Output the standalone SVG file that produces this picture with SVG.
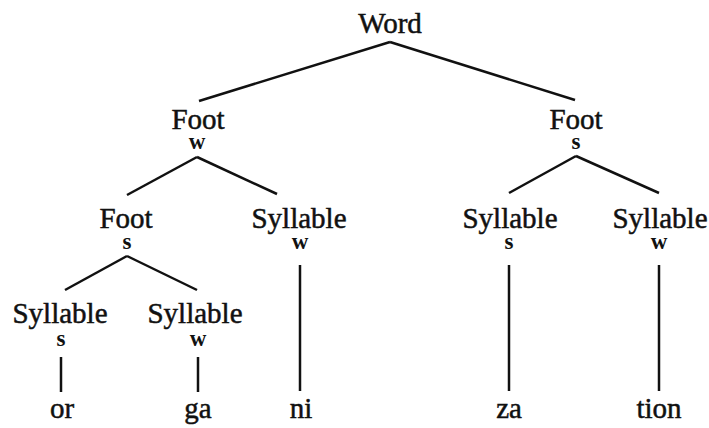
<svg xmlns="http://www.w3.org/2000/svg" width="709" height="428" viewBox="0 0 709 428">
<style>
.lbl{font-family:"Liberation Serif","Times New Roman",serif;font-size:29px;fill:#111;stroke:#111;stroke-width:0.5;text-anchor:middle}
.sw{font-family:"Liberation Serif","Times New Roman",serif;font-size:23px;font-weight:bold;fill:#111;text-anchor:middle}
.edge{stroke:#111;stroke-width:2.5;fill:none;stroke-linecap:butt}
</style>
<rect width="709" height="428" fill="#fff"/>
<g id="connectors">
<line class="edge" x1="390" y1="42" x2="199" y2="101"/>
<line class="edge" x1="390" y1="42" x2="575" y2="100"/>
<line class="edge" x1="197" y1="157" x2="127" y2="195"/>
<line class="edge" x1="197" y1="157" x2="277" y2="194"/>
<line class="edge" x1="576" y1="156" x2="509" y2="193"/>
<line class="edge" x1="576" y1="156" x2="659" y2="193"/>
<line class="edge" x1="127" y1="256" x2="65" y2="290"/>
<line class="edge" x1="127" y1="256" x2="197" y2="290"/>
<line class="edge" x1="300" y1="265" x2="300" y2="391"/>
<line class="edge" x1="509" y1="265" x2="509" y2="391"/>
<line class="edge" x1="659" y1="265" x2="659" y2="391"/>
<line class="edge" x1="61" y1="357" x2="61" y2="392"/>
<line class="edge" x1="198" y1="357" x2="198" y2="392"/>
</g>
<g id="word"><text class="lbl" x="390" y="33">Word</text></g>
<g id="foot-w"><text class="lbl" x="198" y="129">Foot</text><text class="sw" x="197" y="149">w</text></g>
<g id="foot-s"><text class="lbl" x="576" y="129">Foot</text><text class="sw" x="576" y="149">s</text></g>
<g id="foot-s2"><text class="lbl" x="126" y="228">Foot</text><text class="sw" x="127" y="249">s</text></g>
<g id="syl-ni"><text class="lbl" x="299" y="228">Syllable</text><text class="sw" x="300" y="249">w</text></g>
<g id="syl-za"><text class="lbl" x="510" y="228">Syllable</text><text class="sw" x="509" y="249">s</text></g>
<g id="syl-tion"><text class="lbl" x="660" y="228">Syllable</text><text class="sw" x="659" y="249">w</text></g>
<g id="syl-or"><text class="lbl" x="60" y="323">Syllable</text><text class="sw" x="61" y="346">s</text></g>
<g id="syl-ga"><text class="lbl" x="195" y="323">Syllable</text><text class="sw" x="198" y="346">w</text></g>
<g id="or"><text class="lbl" x="62" y="418">or</text></g>
<g id="ga"><text class="lbl" x="198" y="418">ga</text></g>
<g id="ni"><text class="lbl" x="301" y="418">ni</text></g>
<g id="za"><text class="lbl" x="509" y="418">za</text></g>
<g id="tion"><text class="lbl" x="659" y="418">tion</text></g>
</svg>
